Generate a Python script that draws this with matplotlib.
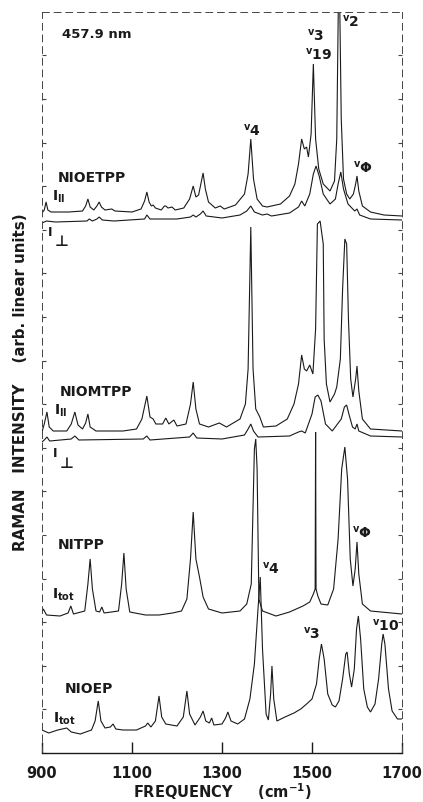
"""
Resonance Raman spectra of Ni porphyrins at 457.9 nm excitation,
stacked traces (I_par / I_perp for the TPP derivatives, I_tot otherwise).
"""

import matplotlib

matplotlib.use("Agg")
import matplotlib.pyplot as plt
from matplotlib.ticker import MultipleLocator

# ── Traces ───────────────────────────────────────────────────────────────────
# frequency (cm-1) and pen position (arb. linear units, stacked offsets included)
nioetpp_par_freq = [900, 905, 909, 913, 920, 960, 990, 997, 1002, 1007, 1015, 1022, 1027, 1032, 1040,
                    1055, 1062, 1100, 1120, 1128, 1133, 1138, 1143, 1147, 1152, 1165, 1172, 1175, 1180,
                    1189, 1196, 1215, 1228, 1236, 1242, 1248, 1253, 1258, 1263, 1270, 1285, 1296, 1305,
                    1330, 1350, 1358, 1364, 1370, 1378, 1390, 1400, 1410, 1430, 1450, 1462, 1470, 1477,
                    1483, 1488, 1492, 1498, 1503, 1508, 1515, 1525, 1540, 1550, 1555, 1560, 1565, 1570,
                    1577, 1584, 1592, 1597, 1600, 1604, 1612, 1630, 1660, 1700]
nioetpp_par_int = [540, 543, 551, 543, 541, 541, 542, 547, 554, 546, 543, 547, 551, 546, 543,
                   544, 542, 541, 544, 552, 561, 551, 547, 548, 545, 543, 547, 547, 545,
                   546, 543, 545, 554, 567, 556, 558, 569, 580, 564, 551, 545, 547, 544,
                   548, 559, 579, 614, 574, 554, 547, 546, 547, 549, 557, 569, 589, 614,
                   604, 606, 596, 619, 689, 614, 584, 569, 562, 572, 614, 804, 634, 574,
                   559, 554, 559, 569, 577, 562, 547, 541, 538, 537]

nioetpp_perp_freq = [900, 910, 930, 1000, 1005, 1012, 1022, 1027, 1034, 1060, 1128, 1133, 1140, 1200,
                     1230, 1236, 1242, 1252, 1258, 1265, 1300, 1340, 1355, 1364, 1372, 1390, 1400,
                     1410, 1450, 1470, 1477, 1484, 1495, 1503, 1509, 1516, 1525, 1540, 1552, 1558,
                     1564, 1570, 1580, 1595, 1600, 1606, 1630, 1700]
nioetpp_perp_int = [530, 532, 531, 532, 534, 532, 534, 536, 533, 532, 534, 538, 534, 534,
                    536, 538, 536, 539, 542, 537, 535, 538, 542, 547, 541, 538, 539,
                    537, 540, 546, 552, 547, 559, 579, 587, 577, 559, 549, 554, 569,
                    581, 564, 549, 542, 544, 538, 534, 533]

niomtpp_par_freq = [900, 905, 911, 916, 925, 955, 965, 973, 980, 990, 997, 1002, 1007, 1020, 1080,
                    1110, 1122, 1133, 1140, 1147, 1153, 1168, 1175, 1182, 1193, 1200, 1220, 1230, 1236,
                    1242, 1250, 1270, 1294, 1310, 1340, 1352, 1358, 1364, 1369, 1375, 1384, 1392, 1420,
                    1445, 1460, 1470, 1477, 1483, 1488, 1495, 1502, 1508, 1512, 1518, 1525, 1527, 1532,
                    1540, 1550, 1555, 1563, 1568, 1573, 1577, 1581, 1586, 1591, 1597, 1600, 1604, 1612,
                    1630, 1700]
niomtpp_par_int = [321, 329, 341, 326, 322, 322, 329, 341, 328, 324, 330, 339, 326, 322, 322,
                   324, 334, 357, 336, 334, 329, 329, 335, 329, 333, 327, 329, 349, 371,
                   344, 329, 326, 330, 326, 334, 349, 384, 526, 384, 344, 336, 326, 327,
                   334, 349, 369, 398, 384, 382, 388, 379, 424, 529, 532, 509, 414, 369,
                   351, 359, 366, 394, 464, 514, 509, 434, 374, 356, 374, 387, 362, 334,
                   324, 322]

niomtpp_perp_freq = [900, 905, 911, 917, 965, 973, 982, 1125, 1133, 1140, 1228, 1236, 1244, 1300,
                     1350, 1358, 1364, 1370, 1380, 1450, 1470, 1477, 1485, 1500, 1507, 1513, 1520,
                     1530, 1545, 1565, 1572, 1577, 1582, 1590, 1596, 1600, 1604, 1630, 1700]
niomtpp_perp_int = [311, 313, 316, 312, 314, 317, 313, 314, 317, 313, 316, 320, 315, 314,
                    318, 324, 329, 322, 316, 317, 321, 322, 320, 339, 356, 358, 352,
                    329, 322, 334, 346, 348, 339, 326, 324, 329, 322, 317, 316]

nitpp_freq = [900, 903, 910, 940, 958, 964, 970, 995, 1002, 1007, 1012, 1020, 1028, 1033, 1038,
              1070, 1077, 1082, 1087, 1095, 1130, 1160, 1190, 1210, 1222, 1230, 1236, 1242, 1250,
              1258, 1270, 1300, 1340, 1355, 1365, 1372, 1375, 1378, 1382, 1390, 1420, 1450, 1480,
              1495, 1503, 1507, 1508, 1509, 1513, 1520, 1535, 1548, 1558, 1566, 1573, 1579, 1585,
              1591, 1596, 1600, 1604, 1612, 1630, 1700]
nitpp_int = [141, 144, 138, 137, 140, 147, 139, 142, 169, 194, 164, 142, 141, 146, 140,
             142, 169, 200, 164, 141, 138, 138, 140, 142, 154, 194, 241, 194, 176,
             156, 144, 140, 142, 149, 169, 304, 314, 284, 154, 142, 137, 141, 147,
             151, 159, 164, 321, 164, 157, 149, 148, 164, 214, 284, 306, 274, 194,
             167, 184, 211, 179, 149, 142, 139]

nioep_freq = [900, 915, 935, 955, 965, 985, 1010, 1018, 1025, 1031, 1040, 1052, 1058, 1064, 1080,
              1110, 1130, 1135, 1142, 1152, 1160, 1166, 1175, 1200, 1214, 1222, 1228, 1240, 1252,
              1258, 1264, 1272, 1277, 1282, 1300, 1308, 1313, 1320, 1335, 1350, 1362, 1372, 1380,
              1385, 1390, 1398, 1403, 1408, 1411, 1415, 1422, 1440, 1460, 1475, 1488, 1500, 1510,
              1516, 1521, 1527, 1535, 1545, 1552, 1560, 1568, 1575, 1578, 1583, 1588, 1594, 1599,
              1603, 1608, 1615, 1623, 1630, 1640, 1648, 1655, 1658, 1662, 1670, 1678, 1690, 1700]
nioep_int = [23, 20, 23, 25, 21, 19, 23, 32, 52, 32, 25, 26, 29, 24, 23,
             23, 27, 30, 26, 32, 57, 36, 29, 27, 36, 62, 39, 28, 36,
             42, 32, 30, 35, 28, 29, 35, 41, 32, 29, 34, 54, 89, 144,
             176, 104, 39, 33, 59, 87, 54, 32, 36, 40, 44, 49, 54, 69,
             94, 109, 94, 59, 48, 46, 52, 74, 99, 101, 79, 66, 84, 124,
             137, 114, 64, 46, 41, 49, 74, 109, 119, 109, 64, 42, 34, 34]

freq_ticks = [900, 1100, 1300, 1500, 1700]

# ── Figure ───────────────────────────────────────────────────────────────────
W, H = 423, 803
fig = plt.figure(figsize=(W / 100, H / 100), dpi=100)
ax = fig.add_axes([42 / W, 49 / H, 360 / W, 741 / H])

ink = "#1a1a1a"
traces = [
    (nioetpp_par_freq, nioetpp_par_int),
    (nioetpp_perp_freq, nioetpp_perp_int),
    (niomtpp_par_freq, niomtpp_par_int),
    (niomtpp_perp_freq, niomtpp_perp_int),
    (nitpp_freq, nitpp_int),
    (nioep_freq, nioep_int),
]
for fx, fy in traces:
    ax.plot(fx, fy, color=ink, lw=0.8, solid_joinstyle="miter")

ax.set_xlim(900, 1700)
ax.set_ylim(0, 741)

# frame: dashed on three sides, solid baseline like the chart paper
for side in ("top", "left", "right"):
    ax.spines[side].set_linestyle((0, (7, 5)))
    ax.spines[side].set_linewidth(0.7)
    ax.spines[side].set_color("#444444")
ax.spines["bottom"].set_linewidth(1.0)
ax.spines["bottom"].set_color(ink)

ax.set_xticks(freq_ticks)
ax.set_xticklabels([str(t) for t in freq_ticks], fontsize=10.5, fontweight="bold")
ax.tick_params(axis="x", direction="in", length=8, width=1.0, pad=9, colors=ink)
ax.yaxis.set_major_locator(MultipleLocator(43.6))
ax.tick_params(axis="y", direction="in", length=3, width=0.8, left=True, right=True,
               labelleft=False, colors="#444444")

fig.text(222 / W, 1 - 792 / H, "FREQUENCY     (cm$^{\\mathbf{-1}}$)", ha="center", va="center",
         fontsize=10.5, fontweight="bold", color=ink)
fig.text(21 / W, 1 - 382 / H, "RAMAN   INTENSITY    (arb. linear units)", rotation=90,
         ha="center", va="center", fontsize=10.8, fontweight="bold", color=ink)

# ── Annotations ──────────────────────────────────────────────────────────────
def label(x, y, s, size=10):
    ax.text(x, y, s, fontsize=size, fontweight="bold", color=ink, ha="left", va="center")


def perp_label(x, y):
    # recorder-style "I" with a large perpendicular sign set below and right
    ax.text(x, y + 4, "I", fontsize=9, fontweight="bold", color=ink, ha="left", va="center")
    ax.text(x + 15, y - 6, "⊥", fontsize=11, fontweight="bold", color=ink, ha="left", va="center")


label(944, 719, "457.9 nm", 9.5)

label(1489, 718, r"$^{\mathbf{v}}$3")
label(1485, 699, r"$^{\mathbf{v}}$19")
label(1567, 732, r"$^{\mathbf{v}}$2")
label(1347, 623, r"$^{\mathbf{v}}$4")
label(1591, 586, r"$^{\mathbf{v}}$Φ")

label(936, 576, "NIOETPP")
label(922, 557, r"I$_{\mathbf{II}}$")
perp_label(913, 518)

label(940, 362, "NIOMTPP")
label(927, 343, r"I$_{\mathbf{II}}$")
perp_label(924, 296)

label(936, 209, "NITPP")
label(922, 159, r"I$_{\mathbf{tot}}$")
label(1389, 185, r"$^{\mathbf{v}}$4")
label(1589, 221, r"$^{\mathbf{v}}$Φ")

label(951, 65, "NIOEP")
label(924, 35, r"I$_{\mathbf{tot}}$")
label(1480, 120, r"$^{\mathbf{v}}$3")
label(1633, 128, r"$^{\mathbf{v}}$10")

fig.savefig("out.png", dpi=100)
plt.close(fig)
